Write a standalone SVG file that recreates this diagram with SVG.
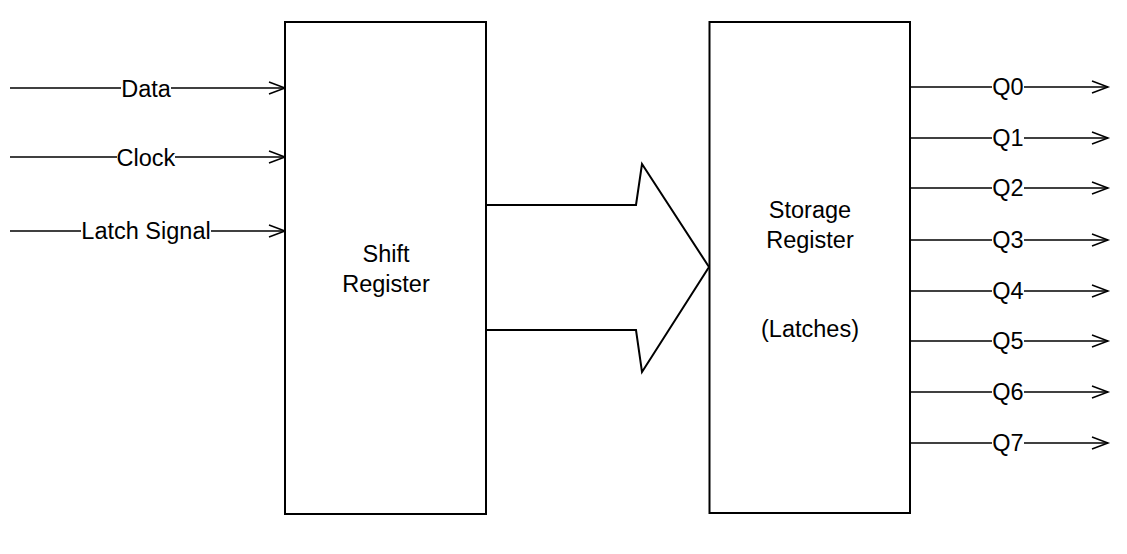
<svg xmlns="http://www.w3.org/2000/svg" width="1127" height="554" viewBox="0 0 1127 554">
<style>
.box{fill:#fff;stroke:#000;stroke-width:2}
.wire{fill:none;stroke:#000;stroke-width:1.5}
.bg{fill:#fff;stroke:none}
.lbl,.t{font-family:"Liberation Sans",Arial,sans-serif;font-size:23.5px;fill:#000;text-anchor:middle}
</style>
<defs>
<marker id="open" markerUnits="userSpaceOnUse" markerWidth="20" markerHeight="16" refX="17" refY="7" orient="auto" viewBox="0 0 20 16">
<path d="M1,1 L17,7 L1,13" fill="none" stroke="#000" stroke-width="1.5"/>
</marker>
</defs>
<rect width="1127" height="554" fill="#fff"/>
<g id="connectors">
<line class="wire" x1="10" y1="88" x2="285" y2="88" marker-end="url(#open)"/>
<line class="wire" x1="10" y1="157" x2="285" y2="157" marker-end="url(#open)"/>
<line class="wire" x1="10" y1="231" x2="285" y2="231" marker-end="url(#open)"/>
<rect class="bg" x="121" y="78" width="50" height="20"/>
<rect class="bg" x="117" y="147" width="58" height="20"/>
<rect class="bg" x="81" y="221" width="130" height="20"/>
<text class="lbl" x="146" y="97">Data</text>
<text class="lbl" x="146" y="166">Clock</text>
<text class="lbl" x="146" y="239">Latch Signal</text>
<line class="wire" x1="910" y1="87" x2="1108" y2="87" marker-end="url(#open)"/>
<line class="wire" x1="910" y1="138" x2="1108" y2="138" marker-end="url(#open)"/>
<line class="wire" x1="910" y1="188" x2="1108" y2="188" marker-end="url(#open)"/>
<line class="wire" x1="908" y1="240" x2="1108" y2="240" marker-end="url(#open)"/>
<line class="wire" x1="908" y1="291" x2="1108" y2="291" marker-end="url(#open)"/>
<line class="wire" x1="910" y1="341" x2="1108" y2="341" marker-end="url(#open)"/>
<line class="wire" x1="910" y1="392" x2="1108" y2="392" marker-end="url(#open)"/>
<line class="wire" x1="910" y1="443" x2="1108" y2="443" marker-end="url(#open)"/>
<rect class="bg" x="992" y="77" width="32" height="20"/>
<rect class="bg" x="992" y="128" width="32" height="20"/>
<rect class="bg" x="992" y="178" width="32" height="20"/>
<rect class="bg" x="992" y="230" width="32" height="20"/>
<rect class="bg" x="992" y="281" width="32" height="20"/>
<rect class="bg" x="992" y="331" width="32" height="20"/>
<rect class="bg" x="992" y="382" width="32" height="20"/>
<rect class="bg" x="992" y="433" width="32" height="20"/>
<text class="lbl" x="1008" y="95">Q0</text>
<text class="lbl" x="1008" y="146">Q1</text>
<text class="lbl" x="1008" y="196">Q2</text>
<text class="lbl" x="1008" y="248">Q3</text>
<text class="lbl" x="1008" y="299">Q4</text>
<text class="lbl" x="1008" y="349">Q5</text>
<text class="lbl" x="1008" y="400">Q6</text>
<text class="lbl" x="1008" y="451">Q7</text>
</g>
<g id="shift-register">
<rect class="box" x="285" y="22" width="201" height="492"/>
<text class="t" x="386" y="262">Shift</text>
<text class="t" x="386" y="292">Register</text>
</g>
<g id="storage-register">
<rect class="box" x="709.5" y="22" width="200.5" height="491"/>
<text class="t" x="810" y="218">Storage</text>
<text class="t" x="810" y="248">Register</text>
<text class="t" x="810" y="337">(Latches)</text>
</g>
<g id="transfer-arrow">
<polygon points="486,205 636,205 642,164 709,267 642,372 636,330 486,330" fill="#fff" stroke="#000" stroke-width="2" stroke-linejoin="miter"/>
</g>
</svg>
